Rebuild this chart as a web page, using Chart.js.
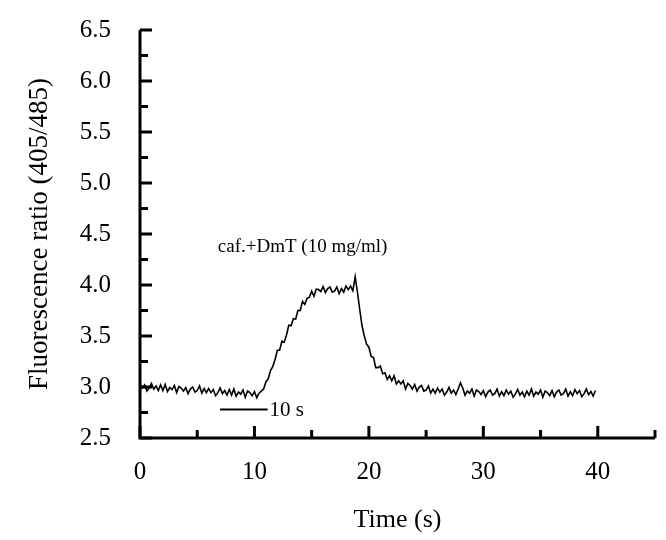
<!DOCTYPE html>
<html>
<head>
<meta charset="utf-8">
<script src="https://cdn.jsdelivr.net/npm/chart.js@4.4.1/dist/chart.umd.min.js"></script>
<style>
html,body{margin:0;padding:0;background:#fff;}
#wrap{width:666px;height:540px;position:relative;}
</style>
</head>
<body>
<div id="wrap"><canvas id="c" width="666" height="540"></canvas></div>
<script>
// Recording: sampled every 0.2 s starting at 0 s
const sampleStart = 0;
const sampleStep = 0.2;
const ratioValues = [
  3.03,2.99,3.02,2.96,2.99,3.035,2.98,3.01,2.965,3.02,
  2.965,3.025,2.955,2.995,2.975,3.015,2.945,3.005,2.99,2.96,
  2.995,2.935,2.98,3.00,2.95,2.965,3.01,2.94,2.985,2.945,
  2.985,2.945,2.975,2.915,2.945,2.99,2.935,2.965,2.92,2.975,
  2.92,2.98,2.91,2.95,2.93,2.97,2.90,2.96,2.945,2.915,
  2.955,2.895,2.94,2.96,2.98,3.05,3.08,3.16,3.20,3.27,
  3.36,3.36,3.45,3.44,3.51,3.605,3.60,3.67,3.665,3.75,
  3.75,3.84,3.81,3.87,3.88,3.94,3.89,3.96,3.955,3.935,
  3.985,3.925,3.965,3.98,3.93,3.94,3.98,3.915,3.965,3.93,
  3.99,3.955,3.99,3.945,4.08,3.93,3.76,3.60,3.50,3.42,
  3.39,3.30,3.29,3.19,3.19,3.205,3.13,3.14,3.075,3.11,
  3.06,3.11,3.03,3.06,3.03,3.06,2.98,3.035,3.015,2.98,
  3.025,2.96,3.00,3.015,2.96,2.97,3.01,2.94,2.98,2.94,
  2.99,2.95,2.98,2.92,2.95,2.995,2.94,2.97,2.925,2.98,
  3.04,2.99,2.92,2.96,2.94,2.98,2.91,2.97,2.955,2.925,
  2.965,2.905,2.95,2.97,2.92,2.935,2.98,2.91,2.955,2.915,
  2.97,2.93,2.96,2.90,2.93,2.975,2.92,2.95,2.905,2.96,
  2.92,2.98,2.91,2.95,2.93,2.97,2.90,2.96,2.945,2.915,
  2.965,2.905,2.95,2.97,2.92,2.935,2.98,2.91,2.955,2.915,
  2.975,2.935,2.965,2.905,2.935,2.98,2.925,2.955,2.91,2.965
];
const xAxisRange = [0, 45];
const yAxisRange = [2.5, 6.5];
const xTickLabels = ['0','10','20','30','40'];
const yTickLabels = ['2.5','3.0','3.5','4.0','4.5','5.0','5.5','6.0','6.5'];
const annotationText = 'caf.+DmT (10 mg/ml)';
const annotationPos = [6.8, 4.37];
const scaleBarText = '10 s';
const scaleBarFrom = [7.0, 2.78];
const scaleBarTo = [11.15, 2.78];
const xTitle = 'Time (s)';
const yTitle = 'Fluorescence ratio (405/485)';

const points = ratioValues.map((v, i) => ({x: +(sampleStart + i * sampleStep).toFixed(2), y: v}));
const serif = "'Liberation Serif','Times New Roman',serif";

const axisPlugin = {
  id: 'axisPlugin',
  afterDatasetsDraw(chart) {
    const ctx = chart.ctx;
    const xs = chart.scales.x, ys = chart.scales.y;
    const ca = chart.chartArea;
    ctx.save();
    ctx.strokeStyle = '#000';
    ctx.lineCap = 'butt';
    ctx.lineWidth = 3;
    ctx.beginPath();
    ctx.moveTo(ca.left, ca.top);
    ctx.lineTo(ca.left, ca.bottom);
    ctx.lineTo(ca.right, ca.bottom);
    ctx.stroke();
    xs.ticks.forEach(t => {
      const px = xs.getPixelForValue(t.value);
      const major = Math.abs(t.value % 10) < 1e-6;
      const len = major ? 12 : 8;
      ctx.beginPath();
      ctx.moveTo(px, ca.bottom);
      ctx.lineTo(px, ca.bottom - len);
      ctx.stroke();
    });
    ys.ticks.forEach(t => {
      const py = ys.getPixelForValue(t.value);
      const major = Math.abs((t.value * 2) - Math.round(t.value * 2)) < 1e-6;
      const len = major ? 12 : 8;
      ctx.beginPath();
      ctx.moveTo(ca.left, py);
      ctx.lineTo(ca.left + len, py);
      ctx.stroke();
    });
    ctx.fillStyle = '#000';
    ctx.font = '19px ' + serif;
    ctx.textAlign = 'left';
    ctx.textBaseline = 'middle';
    ctx.fillText(annotationText, xs.getPixelForValue(annotationPos[0]), ys.getPixelForValue(annotationPos[1]));
    const bx1 = xs.getPixelForValue(scaleBarFrom[0]);
    const bx2 = xs.getPixelForValue(scaleBarTo[0]);
    const by = ys.getPixelForValue(scaleBarFrom[1]);
    ctx.lineWidth = 2;
    ctx.beginPath();
    ctx.moveTo(bx1, by);
    ctx.lineTo(bx2, by);
    ctx.stroke();
    ctx.font = '21px ' + serif;
    ctx.fillText(scaleBarText, bx2 + 2, by + 1);
    ctx.restore();
  }
};

new Chart(document.getElementById('c'), {
  type: 'line',
  data: {
    datasets: [{
      data: points,
      borderColor: '#000',
      borderWidth: 1.6,
      pointRadius: 0,
      tension: 0,
      fill: false
    }]
  },
  options: {
    responsive: false,
    animation: false,
    devicePixelRatio: 1,
    layout: {padding: {top: 30, right: 11, left: 0, bottom: 0}},
    plugins: {legend: {display: false}, tooltip: {enabled: false}},
    scales: {
      x: {
        type: 'linear',
        min: xAxisRange[0], max: xAxisRange[1],
        grid: {display: false},
        border: {display: false},
        ticks: {
          stepSize: 5,
          autoSkip: false,
          maxRotation: 0,
          padding: 11,
          color: '#000',
          font: {family: serif, size: 25},
          callback: (v) => { const s = String(v); return xTickLabels.includes(s) ? s : ''; }
        },
        title: {display: true, text: xTitle, color: '#000', font: {family: serif, size: 26}, padding: {top: 0, bottom: 4}},
        afterFit: (s) => { s.height = 102; s.paddingLeft = 0; s.paddingRight = 0; }
      },
      y: {
        type: 'linear',
        min: yAxisRange[0], max: yAxisRange[1],
        grid: {display: false},
        border: {display: false},
        ticks: {
          stepSize: 0.25,
          autoSkip: false,
          padding: 21,
          color: '#000',
          font: {family: serif, size: 25},
          callback: (v) => { const s = Number(v).toFixed(1); return (yTickLabels.includes(s) && Math.abs(v*2 - Math.round(v*2)) < 1e-6) ? s : ''; }
        },
        title: {display: true, text: yTitle, color: '#000', font: {family: serif, size: 27}, padding: {top: 24, bottom: 0}},
        afterFit: (s) => { s.width = 140; s.paddingTop = 0; s.paddingBottom = 0; }
      }
    }
  },
  plugins: [axisPlugin]
});
</script>
</body>
</html>
